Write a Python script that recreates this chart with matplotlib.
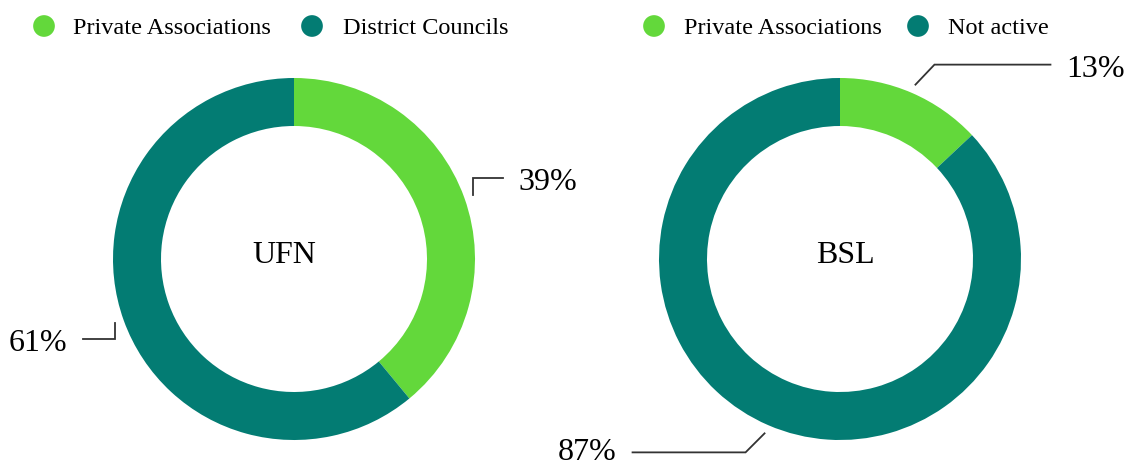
import numpy as np
import matplotlib
matplotlib.use("Agg")
import matplotlib.pyplot as plt

plt.rcParams['font.family'] = ['Liberation Serif', 'DejaVu Serif']

#---------- data ----------#
charts = ["UFN", "BSL"]
ufn_labels = ["Private Associations", "District Councils"]
ufn_values = [39, 61]
bsl_labels = ["Private Associations", "Not active"]
bsl_values = [13, 87]
colors = ["#63D83B", "#037C73"]

W, H = 1131, 468
fig = plt.figure(figsize=(W / 100, H / 100), dpi=100)
ax = fig.add_axes([0, 0, 1, 1])
ax.set_xlim(0, W)
ax.set_ylim(0, H)
ax.set_aspect('equal')
ax.axis('off')

def py(y):
    # pixel row from the top -> data y
    return H - y

R = 181
ring = 48
centers = [(294, 259), (840, 259)]
name_x = [284, 845]
# leader layout per slice: elbow offset (dx, dy in px, down positive), horizontal length
leaders = [
    [((0, -17), 30), ((0, 16), -32)],
    [((19, -20), 116), ((-19, 19), -113)],
]
legend_x = [(44, 73, 312, 343), (654, 684, 918, 948)]

for k, (name, labels, values) in enumerate([(charts[0], ufn_labels, ufn_values),
                                             (charts[1], bsl_labels, bsl_values)]):
    cx, cy = centers[k]
    ax.pie(values, colors=colors, startangle=90, counterclock=False,
           center=(cx, py(cy)), radius=R,
           wedgeprops=dict(width=ring, edgecolor='none', linewidth=0),
           frame=True)
    ax.text(name_x[k], py(cy + 4), name, fontsize=23, ha='center', va='baseline')

    # percent labels with leader lines
    start = 90.0
    total = float(sum(values))
    for i, v in enumerate(values):
        span = 360.0 * v / total
        mid = np.radians(start - span / 2)
        start -= span
        x0 = cx + 190 * np.cos(mid)
        y0 = cy - 190 * np.sin(mid)
        (ex, ey), hl = leaders[k][i]
        x1, y1 = x0 + ex, y0 + ey
        x2 = x1 + hl
        ax.plot([x0, x1, x2], [py(y0), py(y1), py(y1)], color='#333333', lw=1.3,
                solid_joinstyle='miter')
        ty = min(y1 + 12, 460)
        if hl > 0:
            ax.text(x2 + 16, py(ty), "%d%%" % v, fontsize=23, ha='left', va='baseline')
        else:
            ax.text(x2 - 16, py(ty), "%d%%" % v, fontsize=23, ha='right', va='baseline')

    # legend
    lx = legend_x[k]
    for j, lab in enumerate(labels):
        ax.scatter([lx[2 * j]], [py(26)], s=244, color=colors[j], edgecolors='none')
        ax.text(lx[2 * j + 1], py(34), lab, fontsize=17.5, ha='left', va='baseline')

ax.set_xlim(0, W)
ax.set_ylim(0, H)
ax.axis('off')
fig.savefig("out.png", dpi=100)
